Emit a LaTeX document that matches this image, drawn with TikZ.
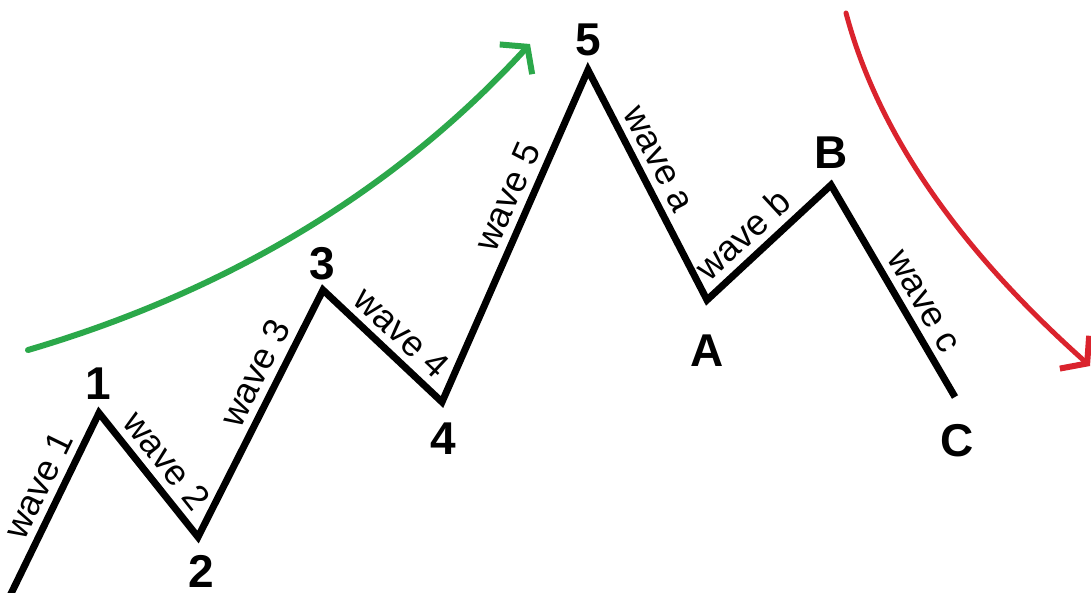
\documentclass[tikz,border=0pt]{standalone}
\usepackage{fontspec}
\setmainfont{Liberation Sans}
\usetikzlibrary{arrows.meta}
\definecolor{upgreen}{RGB}{43,168,74}
\definecolor{downred}{RGB}{218,35,45}
\begin{document}
\begin{tikzpicture}[x=1pt,y=-1pt,
  wave/.style={draw=black,line width=7pt,line join=miter},
  wlabel/.style={font=\fontsize{36}{36}\selectfont,sloped,above=6pt,inner sep=1pt},
  plabel/.style={font=\fontsize{46}{46}\selectfont\bfseries,inner sep=0pt},
  trend/.style={line width=6pt,line cap=round,-{Straight Barb[length=17pt,width=44pt,line width=6pt]}}]
\clip (0,0) rectangle (1091,592);
\fill[white] (0,0) rectangle (1091,592);
% turning points
\coordinate (p0) at (6,604);
\coordinate (p1) at (99,413);
\coordinate (p2) at (198,537);
\coordinate (p3) at (323,290);
\coordinate (p4) at (442,402);
\coordinate (p5) at (588,70);
\coordinate (pA) at (707,300);
\coordinate (pB) at (831,185);
\coordinate (pC) at (955,397);
% waves
\draw[wave] (p0) -- node[wlabel,pos=0.57] {wave 1} (p1)
  -- node[wlabel,pos=0.5] {wave 2} (p2)
  -- node[wlabel,pos=0.62] {wave 3} (p3)
  -- node[wlabel,pos=0.53] {wave 4} (p4)
  -- node[wlabel,pos=0.59] {wave 5} (p5)
  -- node[wlabel,pos=0.43] {wave a} (pA)
  -- node[wlabel,pos=0.42] {wave b} (pB)
  -- node[wlabel,pos=0.6] {wave c} (pC);
% point labels
\node[plabel] (l1) at (98,384) {1};
\node[plabel] (l2) at (201,571) {2};
\node[plabel] (l3) at (322,264) {3};
\node[plabel] (l4) at (443,439) {4};
\node[plabel] (l5) at (588,40) {5};
\node[plabel] (lA) at (707,351) {A};
\node[plabel] (lB) at (831,153) {B};
\node[plabel] (lC) at (957,441) {C};
% trend arrows
\coordinate (gs) at (28,350);
\coordinate (ge) at (530,44);
\draw[trend,upgreen] (gs) .. controls (229,291) and (397,189) .. (ge);
\coordinate (rs) at (846,13);
\coordinate (re) at (1090,366);
\draw[trend,downred,line width=5pt] (rs) .. controls (878,134) and (960,250) .. (re);
\end{tikzpicture}
\end{document}
